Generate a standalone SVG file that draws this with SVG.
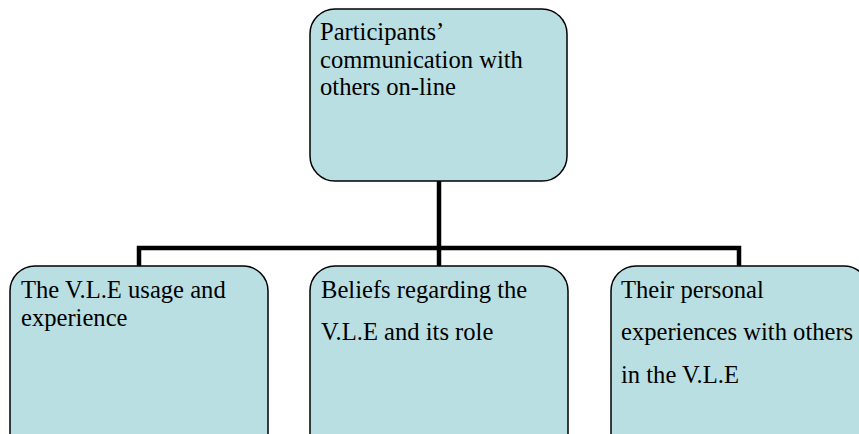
<svg xmlns="http://www.w3.org/2000/svg" width="859" height="434" viewBox="0 0 859 434">
  <style>
    .box { fill: #b9dfe3; stroke: #000; stroke-width: 1.5; }
    .label { font-family: "Liberation Serif", "Times New Roman", serif; font-size: 24.6px; fill: #000; }
    .link { fill: none; stroke: #000; stroke-width: 4.5; stroke-linejoin: miter; }
  </style>
  <rect width="859" height="434" fill="#fff"/>

  <g id="connectors">
    <path class="link" d="M439 181 V248"/>
    <path class="link" d="M139 266 V248 H739 V266"/>
    <path class="link" d="M439 248 V266"/>
  </g>

  <g id="root">
    <rect class="box" x="310" y="9" width="257" height="172" rx="25" ry="25"/>
    <text class="label" x="320" y="40">Participants’</text>
    <text class="label" x="320" y="68">communication with</text>
    <text class="label" x="320" y="95">others on-line</text>
  </g>

  <g id="vle-usage">
    <rect class="box" x="10" y="266" width="258" height="200" rx="25" ry="25"/>
    <text class="label" x="21" y="298">The V.L.E usage and</text>
    <text class="label" x="21" y="326">experience</text>
  </g>

  <g id="vle-beliefs">
    <rect class="box" x="310" y="266" width="258" height="200" rx="25" ry="25"/>
    <text class="label" x="321" y="298">Beliefs regarding the</text>
    <text class="label" x="321" y="340">V.L.E and its role</text>
  </g>

  <g id="personal-experiences">
    <rect class="box" x="611" y="266" width="258" height="200" rx="25" ry="25"/>
    <text class="label" x="621" y="298">Their personal</text>
    <text class="label" x="621" y="340">experiences with others</text>
    <text class="label" x="621" y="383">in the V.L.E</text>
  </g>
</svg>
